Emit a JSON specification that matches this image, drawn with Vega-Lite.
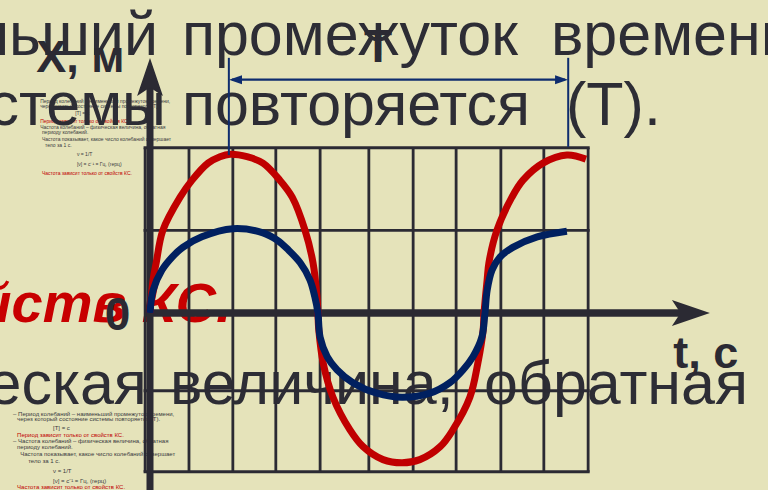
{
  "$schema": "https://vega.github.io/schema/vega-lite/v6.json",
  "width": 768,
  "height": 490,
  "padding": 0,
  "autosize": {"type": "none"},
  "background": "#E5E3BA",
  "config": {"view": {"stroke": null}},
  "encoding": {
    "x": {"type": "quantitative", "scale": {"domain": [-3.386, 13.95], "nice": false, "zero": false}, "axis": null},
    "y": {"type": "quantitative", "scale": {"domain": [-2.185, 3.864], "nice": false, "zero": false}, "axis": null}
  },
  "layer": [
    {
      "data": {"values": [
        {"t": -2.48, "x": 2.593, "kind": "def", "s": "Период колебаний – наименьший промежуток времени,"},
        {"t": -2.48, "x": 2.531, "kind": "def", "s": "через который состояние системы повторяется (Т)."},
        {"t": -1.69, "x": 2.444, "kind": "def", "s": "[T] = c"},
        {"t": -2.48, "x": 2.346, "kind": "note", "s": "Период зависит только от свойств КС."},
        {"t": -2.48, "x": 2.272, "kind": "def", "s": "Частота колебаний – физическая величина, обратная"},
        {"t": -2.44, "x": 2.21, "kind": "def", "s": "периоду колебаний."},
        {"t": -2.44, "x": 2.123, "kind": "def", "s": "Частота показывает, какое число колебаний совершает"},
        {"t": -2.37, "x": 2.049, "kind": "def", "s": "тело за 1 с."},
        {"t": -1.65, "x": 1.938, "kind": "def", "s": "ν = 1/T"},
        {"t": -1.65, "x": 1.815, "kind": "def", "s": "[ν] = c⁻¹ = Гц, (герц)"},
        {"t": -2.44, "x": 1.704, "kind": "note", "s": "Частота зависит только от свойств КС."}
      ]},
      "mark": {"type": "text", "align": "left", "baseline": "alphabetic", "font": "Liberation Sans", "fontSize": 5},
      "encoding": {
        "x": {"field": "t"}, "y": {"field": "x"}, "text": {"field": "s"},
        "color": {"field": "kind", "type": "nominal", "scale": {"domain": ["def", "note"], "range": ["#3a3a40", "#C00000"]}, "legend": null}
      }
    },
    {
      "data": {"values": [
        {"t": -3.09, "x": -1.272, "kind": "def", "s": "– Период колебаний – наименьший промежуток времени,"},
        {"t": -3.0, "x": -1.333, "kind": "def", "s": "через который состояние системы повторяется (Т)."},
        {"t": -2.19, "x": -1.444, "kind": "def", "s": "[T] = c"},
        {"t": -3.0, "x": -1.531, "kind": "note", "s": "Период зависит только от свойств КС."},
        {"t": -3.09, "x": -1.605, "kind": "def", "s": "– Частота колебаний – физическая величина, обратная"},
        {"t": -3.0, "x": -1.679, "kind": "def", "s": "периоду колебаний."},
        {"t": -2.93, "x": -1.765, "kind": "def", "s": "Частота показывает, какое число колебаний совершает"},
        {"t": -2.75, "x": -1.852, "kind": "def", "s": "тело за 1 с."},
        {"t": -2.19, "x": -1.975, "kind": "def", "s": "ν = 1/T"},
        {"t": -2.19, "x": -2.099, "kind": "def", "s": "[ν] = c⁻¹ = Гц, (герц)"},
        {"t": -3.0, "x": -2.175, "kind": "note", "s": "Частота зависит только от свойств КС."}
      ]},
      "mark": {"type": "text", "align": "left", "baseline": "alphabetic", "font": "Liberation Sans", "fontSize": 6},
      "encoding": {
        "x": {"field": "t"}, "y": {"field": "x"}, "text": {"field": "s"},
        "color": {"field": "kind", "type": "nominal", "scale": {"domain": ["def", "note"], "range": ["#3a3a40", "#C00000"]}, "legend": null}
      }
    },
    {
      "data": {"values": [
        {"t": 0.72, "x": 3.185, "s": "промежуток"},
        {"t": 9.05, "x": 3.185, "s": "времени,"},
        {"t": 0.72, "x": 2.321, "s": "повторяется"},
        {"t": 9.39, "x": 2.321, "s": "(Т)."},
        {"t": 0.45, "x": -1.123, "s": "величина,"},
        {"t": 7.54, "x": -1.123, "s": "обратная"}
      ]},
      "mark": {"type": "text", "align": "left", "baseline": "alphabetic", "font": "Liberation Sans", "fontSize": 61, "color": "#2D2D35"},
      "encoding": {"x": {"field": "t"}, "y": {"field": "x"}, "text": {"field": "s"}}
    },
    {
      "data": {"values": [
        {"t": 0.18, "x": 3.185, "s": "наименьший"},
        {"t": 0.36, "x": 2.321, "s": "системы"},
        {"t": -0.07, "x": -1.123, "s": "физическая"}
      ]},
      "mark": {"type": "text", "align": "right", "baseline": "alphabetic", "font": "Liberation Sans", "fontSize": 61, "color": "#2D2D35"},
      "encoding": {"x": {"field": "t"}, "y": {"field": "x"}, "text": {"field": "s"}}
    },
    {
      "data": {"values": [{"t": 1.84, "x": -0.111, "s": "свойств КС."}]},
      "mark": {"type": "text", "align": "right", "baseline": "alphabetic", "font": "Liberation Sans", "fontSize": 56, "fontWeight": "bold", "fontStyle": "italic", "color": "#C80000"},
      "encoding": {"x": {"field": "t"}, "y": {"field": "x"}, "text": {"field": "s"}}
    },
    {
      "data": {"values": [
        {"t": -0.11, "lo": -1.96, "hi": 2.04},
        {"t": 0.88, "lo": -1.96, "hi": 2.04},
        {"t": 1.87, "lo": -1.96, "hi": 2.04},
        {"t": 2.84, "lo": -1.96, "hi": 2.04},
        {"t": 3.84, "lo": -1.96, "hi": 2.04},
        {"t": 4.94, "lo": -1.96, "hi": 2.04},
        {"t": 5.94, "lo": -1.96, "hi": 2.04},
        {"t": 6.91, "lo": -1.96, "hi": 2.04},
        {"t": 7.92, "lo": -1.96, "hi": 2.04},
        {"t": 8.89, "lo": -1.96, "hi": 2.04},
        {"t": 9.89, "lo": -1.96, "hi": 2.04}
      ]},
      "mark": {"type": "rule", "color": "#2B2A33", "strokeWidth": 2.8},
      "encoding": {"x": {"field": "t"}, "y": {"field": "lo"}, "y2": {"field": "hi"}}
    },
    {
      "data": {"values": [
        {"x": 2.04, "a": -0.145, "b": 9.925},
        {"x": 1.02, "a": -0.145, "b": 9.925},
        {"x": -0.96, "a": -0.145, "b": 9.925},
        {"x": -1.96, "a": -0.145, "b": 9.925}
      ]},
      "mark": {"type": "rule", "color": "#2B2A33", "strokeWidth": 2.8},
      "encoding": {"x": {"field": "a"}, "x2": {"field": "b"}, "y": {"field": "x"}}
    },
    {
      "data": {"values": [{"x": 0, "a": -0.135, "b": 12.25}]},
      "mark": {"type": "rule", "color": "#2B2A33", "strokeWidth": 7.5},
      "encoding": {"x": {"field": "a"}, "x2": {"field": "b"}, "y": {"field": "x"}}
    },
    {
      "data": {"values": [{"t": 0, "lo": -2.2, "hi": 2.8}]},
      "mark": {"type": "rule", "color": "#2B2A33", "strokeWidth": 7},
      "encoding": {"x": {"field": "t"}, "y": {"field": "lo"}, "y2": {"field": "hi"}}
    },
    {
      "data": {"values": [{"t": 0, "x": 2.914}]},
      "mark": {"type": "point", "filled": true, "opacity": 1, "color": "#2B2A33", "size": 1444, "shape": "M0,-1 L0.68,1 L0,0.55 L-0.68,1 Z"},
      "encoding": {"x": {"field": "t"}, "y": {"field": "x"}}
    },
    {
      "data": {"values": [{"t": 12.21, "x": 0}]},
      "mark": {"type": "point", "filled": true, "opacity": 1, "color": "#2B2A33", "size": 1444, "shape": "M1,0 L-1,0.68 L-0.55,0 L-1,-0.68 Z"},
      "encoding": {"x": {"field": "t"}, "y": {"field": "x"}}
    },
    {
      "data": {"values": [
        {"t": 0, "x": 0}, {"t": 0.07, "x": 0.41}, {"t": 0.14, "x": 0.62}, {"t": 0.29, "x": 1.02},
        {"t": 0.68, "x": 1.43}, {"t": 0.95, "x": 1.64}, {"t": 1.31, "x": 1.85}, {"t": 1.58, "x": 1.93},
        {"t": 1.81, "x": 1.96}, {"t": 2.19, "x": 1.93}, {"t": 2.55, "x": 1.85}, {"t": 2.93, "x": 1.64},
        {"t": 3.21, "x": 1.43}, {"t": 3.5, "x": 1.02}, {"t": 3.68, "x": 0.62}, {"t": 3.77, "x": 0.2},
        {"t": 3.79, "x": 0}, {"t": 3.81, "x": -0.21}, {"t": 3.91, "x": -0.62}, {"t": 4.13, "x": -1.04},
        {"t": 4.51, "x": -1.44}, {"t": 4.81, "x": -1.65}, {"t": 5.26, "x": -1.81}, {"t": 5.69, "x": -1.85},
        {"t": 6.09, "x": -1.81}, {"t": 6.55, "x": -1.65}, {"t": 6.84, "x": -1.44}, {"t": 7.22, "x": -1.04},
        {"t": 7.4, "x": -0.62}, {"t": 7.52, "x": -0.21}, {"t": 7.54, "x": 0}, {"t": 7.61, "x": 0.41},
        {"t": 7.65, "x": 0.62}, {"t": 7.83, "x": 1.02}, {"t": 8.17, "x": 1.43}, {"t": 8.42, "x": 1.64},
        {"t": 8.87, "x": 1.85}, {"t": 9.41, "x": 1.95}, {"t": 9.84, "x": 1.9}
      ]},
      "mark": {"type": "line", "color": "#C00000", "strokeWidth": 7, "interpolate": "catmull-rom", "strokeCap": "butt"},
      "encoding": {"x": {"field": "t"}, "y": {"field": "x"}}
    },
    {
      "data": {"values": [
        {"t": 0, "x": 0}, {"t": 0.07, "x": 0.28}, {"t": 0.27, "x": 0.53}, {"t": 0.5, "x": 0.69},
        {"t": 0.74, "x": 0.81}, {"t": 1.17, "x": 0.94}, {"t": 1.87, "x": 1.04}, {"t": 2.55, "x": 0.99},
        {"t": 2.87, "x": 0.9}, {"t": 3.12, "x": 0.78}, {"t": 3.39, "x": 0.62}, {"t": 3.61, "x": 0.41},
        {"t": 3.72, "x": 0.2}, {"t": 3.79, "x": 0}, {"t": 3.84, "x": -0.3}, {"t": 4.0, "x": -0.54},
        {"t": 4.22, "x": -0.7}, {"t": 4.58, "x": -0.86}, {"t": 5.12, "x": -0.99}, {"t": 5.69, "x": -1.04},
        {"t": 6.32, "x": -0.99}, {"t": 6.77, "x": -0.86}, {"t": 7.07, "x": -0.7}, {"t": 7.29, "x": -0.54},
        {"t": 7.49, "x": -0.3}, {"t": 7.56, "x": 0}, {"t": 7.61, "x": 0.28}, {"t": 7.72, "x": 0.53},
        {"t": 7.9, "x": 0.69}, {"t": 8.19, "x": 0.81}, {"t": 8.74, "x": 0.94}, {"t": 9.41, "x": 1.01}
      ]},
      "mark": {"type": "line", "color": "#002060", "strokeWidth": 7, "interpolate": "catmull-rom", "strokeCap": "butt"},
      "encoding": {"x": {"field": "t"}, "y": {"field": "x"}}
    },
    {
      "data": {"values": [
        {"t": 1.78, "lo": 1.95, "hi": 3.15},
        {"t": 9.44, "lo": 2.05, "hi": 3.15}
      ]},
      "mark": {"type": "rule", "color": "#0E2C6E", "strokeWidth": 2},
      "encoding": {"x": {"field": "t"}, "y": {"field": "lo"}, "y2": {"field": "hi"}}
    },
    {
      "data": {"values": [{"x": 2.88, "a": 1.85, "b": 9.37}]},
      "mark": {"type": "rule", "color": "#0E2C6E", "strokeWidth": 2.2},
      "encoding": {"x": {"field": "a"}, "x2": {"field": "b"}, "y": {"field": "x"}}
    },
    {
      "data": {"values": [{"t": 1.93, "x": 2.88}]},
      "mark": {"type": "point", "filled": true, "opacity": 1, "color": "#0E2C6E", "size": 169, "shape": "M-1,0 L1,-0.7 L1,0.7 Z"},
      "encoding": {"x": {"field": "t"}, "y": {"field": "x"}}
    },
    {
      "data": {"values": [{"t": 9.29, "x": 2.88}]},
      "mark": {"type": "point", "filled": true, "opacity": 1, "color": "#0E2C6E", "size": 169, "shape": "M1,0 L-1,-0.7 L-1,0.7 Z"},
      "encoding": {"x": {"field": "t"}, "y": {"field": "x"}}
    },
    {
      "data": {"values": [
        {"t": -2.57, "x": 2.975, "s": "X, м"},
        {"t": 11.81, "x": -0.679, "s": "t, с"}
      ]},
      "mark": {"type": "text", "align": "left", "baseline": "alphabetic", "font": "Liberation Sans", "fontSize": 45, "fontWeight": "bold", "color": "#2B2A33"},
      "encoding": {"x": {"field": "t"}, "y": {"field": "x"}, "text": {"field": "s"}}
    },
    {
      "data": {"values": [
        {"t": 5.15, "x": 3.099, "s": "T"},
        {"t": -0.73, "x": -0.21, "s": "0"}
      ]},
      "mark": {"type": "text", "align": "center", "baseline": "alphabetic", "font": "Liberation Sans", "fontSize": 46, "fontWeight": "bold", "color": "#2B2A33"},
      "encoding": {"x": {"field": "t"}, "y": {"field": "x"}, "text": {"field": "s"}}
    }
  ]
}
